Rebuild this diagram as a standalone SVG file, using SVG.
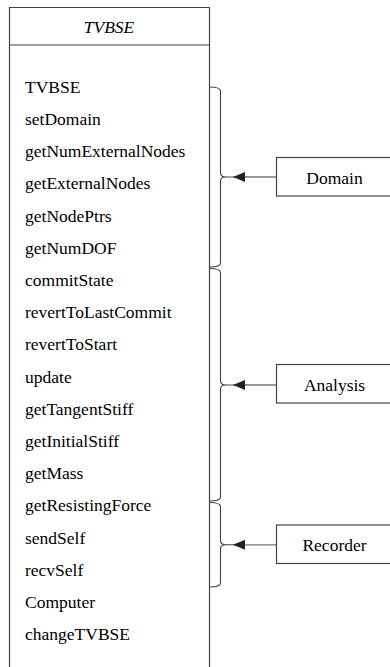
<svg xmlns="http://www.w3.org/2000/svg" width="390" height="667" viewBox="0 0 390 667">
<defs>
<marker id="ah" viewBox="0 0 12 10" refX="12" refY="5" markerWidth="12" markerHeight="10" markerUnits="userSpaceOnUse" orient="auto">
<path d="M0,0 L12,5 L0,10 Z" fill="#222"/>
</marker>
</defs>
<rect width="390" height="667" fill="#fff"/>
<g id="TVBSE">
<path d="M9.5,675 L9.5,7.5 L209.5,7.5 L209.5,675" fill="#fff" stroke="#444" stroke-width="1.2"/>
<line x1="9.5" y1="45" x2="209.5" y2="45" stroke="#444" stroke-width="1.2"/>
<text x="109" y="33.3" text-anchor="middle" font-style="italic" font-size="17.5" font-family="Liberation Serif"><tspan font-family="Liberation Serif" font-style="italic">TVBSE</tspan></text>
<text x="25" y="92.7" font-size="17.5" font-family="Liberation Serif"><tspan font-family="Liberation Serif">TVBSE</tspan></text>
<text x="25" y="124.9" font-size="17.5" font-family="Liberation Serif"><tspan font-family="Liberation Serif">setDomain</tspan></text>
<text x="25" y="157.1" font-size="17.5" font-family="Liberation Serif"><tspan font-family="Liberation Serif">getNumExternalNodes</tspan></text>
<text x="25" y="189.3" font-size="17.5" font-family="Liberation Serif"><tspan font-family="Liberation Serif">getExternalNodes</tspan></text>
<text x="25" y="221.5" font-size="17.5" font-family="Liberation Serif"><tspan font-family="Liberation Serif">getNodePtrs</tspan></text>
<text x="25" y="253.7" font-size="17.5" font-family="Liberation Serif"><tspan font-family="Liberation Serif">getNumDOF</tspan></text>
<text x="25" y="285.9" font-size="17.5" font-family="Liberation Serif"><tspan font-family="Liberation Serif">commitState</tspan></text>
<text x="25" y="318.1" font-size="17.5" font-family="Liberation Serif"><tspan font-family="Liberation Serif">revertToLastCommit</tspan></text>
<text x="25" y="350.3" font-size="17.5" font-family="Liberation Serif"><tspan font-family="Liberation Serif">revertToStart</tspan></text>
<text x="25" y="382.5" font-size="17.5" font-family="Liberation Serif"><tspan font-family="Liberation Serif">update</tspan></text>
<text x="25" y="414.7" font-size="17.5" font-family="Liberation Serif"><tspan font-family="Liberation Serif">getTangentStiff</tspan></text>
<text x="25" y="446.9" font-size="17.5" font-family="Liberation Serif"><tspan font-family="Liberation Serif">getInitialStiff</tspan></text>
<text x="25" y="479.1" font-size="17.5" font-family="Liberation Serif"><tspan font-family="Liberation Serif">getMass</tspan></text>
<text x="25" y="511.3" font-size="17.5" font-family="Liberation Serif"><tspan font-family="Liberation Serif">getResistingForce</tspan></text>
<text x="25" y="543.5" font-size="17.5" font-family="Liberation Serif"><tspan font-family="Liberation Serif">sendSelf</tspan></text>
<text x="25" y="575.7" font-size="17.5" font-family="Liberation Serif"><tspan font-family="Liberation Serif">recvSelf</tspan></text>
<text x="25" y="607.9" font-size="17.5" font-family="Liberation Serif"><tspan font-family="Liberation Serif">Computer</tspan></text>
<text x="25" y="640.1" font-size="17.5" font-family="Liberation Serif"><tspan font-family="Liberation Serif">changeTVBSE</tspan></text>
</g>
<g id="braces" fill="none" stroke="#444" stroke-width="1.1">
<path d="M209.5,87 Q220.5,87 220.5,91 L220.5,173 Q220.5,177 226,177 L234,177 M226,177 Q220.5,177 220.5,181 L220.5,263 Q220.5,267 209.5,267"/>
<path d="M209.5,268.5 Q220.5,268.5 220.5,272.5 L220.5,381 Q220.5,385 226,385 L234,385 M226,385 Q220.5,385 220.5,389 L220.5,497 Q220.5,501 209.5,501"/>
<path d="M209.5,502.5 Q220.5,502.5 220.5,506.5 L220.5,540.8 Q220.5,544.8 226,544.8 L234,544.8 M226,544.8 Q220.5,544.8 220.5,548.8 L220.5,583 Q220.5,587 209.5,587"/>
</g>
<g id="connectors" fill="none" stroke="#777" stroke-width="1.3">
<line x1="276.5" y1="177" x2="233" y2="177" marker-end="url(#ah)"/>
<line x1="276.5" y1="385" x2="233" y2="385" marker-end="url(#ah)"/>
<line x1="276.5" y1="544.8" x2="233" y2="544.8" marker-end="url(#ah)"/>
</g>
<g id="Domain">
<rect x="276.5" y="157.5" width="117" height="38.5" fill="#fff" stroke="#444" stroke-width="1.2"/>
<text x="334.5" y="183.5" text-anchor="middle" font-size="17.5" font-family="Liberation Serif"><tspan font-family="Liberation Serif">Domain</tspan></text>
</g>
<g id="Analysis">
<rect x="276.5" y="364.5" width="117" height="38.5" fill="#fff" stroke="#444" stroke-width="1.2"/>
<text x="334.5" y="390.5" text-anchor="middle" font-size="17.5" font-family="Liberation Serif"><tspan font-family="Liberation Serif">Analysis</tspan></text>
</g>
<g id="Recorder">
<rect x="276.5" y="525" width="117" height="38.5" fill="#fff" stroke="#444" stroke-width="1.2"/>
<text x="334.5" y="550.7" text-anchor="middle" font-size="17.5" font-family="Liberation Serif"><tspan font-family="Liberation Serif">Recorder</tspan></text>
</g>
</svg>
